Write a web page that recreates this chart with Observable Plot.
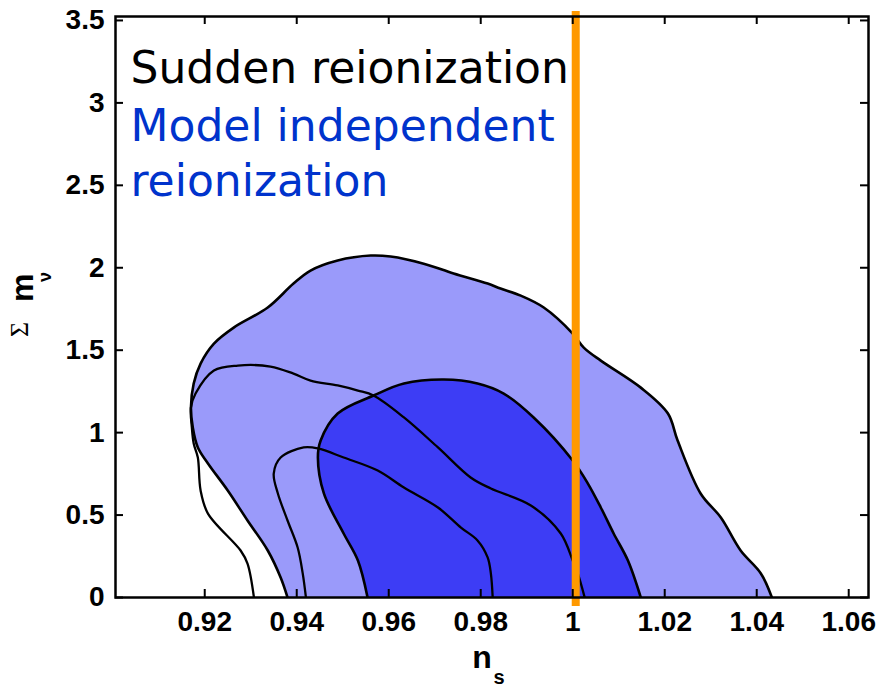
<!DOCTYPE html>
<html><head><meta charset="utf-8">
<script src="https://cdn.jsdelivr.net/npm/d3@7"></script>
<script src="https://cdn.jsdelivr.net/npm/@observablehq/plot@0.6"></script>
<style>body{margin:0;background:#fff}</style>
</head><body><div id="chart"></div>
<script>
// axis extents and ticks
const xDomain = [0.9006, 1.0643];
const yDomain = [0, 3.524];
const xTicks = [0.92, 0.94, 0.96, 0.98, 1.00, 1.02, 1.04, 1.06];
const yTicks = [0, 0.5, 1, 1.5, 2, 2.5, 3, 3.5];
const nsLine = [1.0];

// Model independent reionization, 95% (light filled)
const mi95 = [
  [0.9380,0],[0.9365,0.121],[0.9337,0.285],[0.9293,0.467],[0.9250,0.649],[0.9207,0.813],
  [0.9185,0.910],[0.9174,1.031],[0.9170,1.152],[0.9176,1.298],[0.9191,1.419],[0.9220,1.540],
  [0.9263,1.637],[0.9337,1.759],[0.9393,1.904],[0.9430,1.983],[0.9489,2.044],[0.9561,2.074],
  [0.9604,2.068],[0.9676,2.025],[0.9741,1.965],[0.9815,1.904],[0.9843,1.874],[0.9887,1.831],
  [0.9937,1.759],[1.0000,1.601],[1.0024,1.516],[1.0061,1.437],[1.0148,1.273],[1.0207,1.116],
  [1.0228,0.952],[1.0278,0.631],[1.0322,0.485],[1.0365,0.285],[1.0409,0.146],[1.0433,0]
];
// Model independent reionization, 68% (dark filled)
const mi68 = [
  [0.9554,0],[0.9533,0.224],[0.9502,0.388],[0.9459,0.631],[0.9446,0.849],[0.9452,0.952],
  [0.9489,1.116],[0.9567,1.225],[0.9633,1.298],[0.9720,1.322],[0.9793,1.298],[0.9850,1.237],
  [0.9915,1.092],[1.0000,0.831],[1.0033,0.691],[1.0061,0.546],[1.0089,0.388],[1.0120,0.224],[1.0148,0]
];
// Sudden reionization, 95% (line)
const sud95 = [
  [0.9307,0],[0.9293,0.206],[0.9278,0.285],[0.9207,0.509],[0.9191,0.649],[0.9185,0.849],
  [0.9176,0.934],[0.9172,1.031],[0.9170,1.152],[0.9180,1.237],[0.9220,1.377],[0.9272,1.407],
  [0.9343,1.401],[0.9393,1.358],[0.9430,1.316],[0.9489,1.286],[0.9533,1.255],[0.9567,1.225],
  [0.9633,1.092],[0.9707,0.910],[0.9778,0.728],[0.9822,0.661],[0.9909,0.558],[0.9974,0.388],
  [1.0000,0.224],[1.0011,0.146],[1.0026,0]
];
// Sudden reionization, 68% (line)
const sud68 = [
  [0.9420,0],[0.9413,0.146],[0.9402,0.303],[0.9380,0.467],[0.9359,0.631],[0.9350,0.752],
  [0.9365,0.849],[0.9415,0.910],[0.9446,0.904],[0.9502,0.849],[0.9576,0.770],[0.9633,0.667],
  [0.9707,0.546],[0.9757,0.424],[0.9793,0.346],[0.9815,0.243],[0.9822,0.146],[0.9826,0]
];

const labelSudden = ["Sudden reionization"];
const labelModel = ["Model independent\nreionization"];

const fmt = d3.format("~g");
const tickFont = {fontSize: 28, fontWeight: "bold", fontFamily: "Liberation Sans, Arial, sans-serif", fill: "black"};

const chart = Plot.plot({
  width: 882,
  height: 690,
  marginLeft: 115,
  marginRight: 14,
  marginTop: 16,
  marginBottom: 93,
  style: {background: "white", color: "black"},
  x: {domain: xDomain, label: null},
  y: {domain: yDomain, label: null},
  marks: [
    Plot.line(mi95, {x: d => d[0], y: d => d[1], fill: "#9a9afa", stroke: "black", strokeWidth: 2.6, curve: "catmull-rom", clip: true}),
    Plot.line(mi68, {x: d => d[0], y: d => d[1], fill: "#3d3df5", stroke: "black", strokeWidth: 2.6, curve: "catmull-rom", clip: true}),
    Plot.line(sud95, {x: d => d[0], y: d => d[1], stroke: "black", strokeWidth: 2.3, curve: "catmull-rom", clip: true}),
    Plot.line(sud68, {x: d => d[0], y: d => d[1], stroke: "black", strokeWidth: 2.3, curve: "catmull-rom", clip: true}),
    Plot.ruleX(nsLine, {x: d => d, stroke: "#ff9900", strokeWidth: 8, insetTop: -5, insetBottom: -9, dx: 3}),
    Plot.frame({stroke: "black", strokeWidth: 2.5}),
    // inward ticks on all four sides
    Plot.ruleX(xTicks, {x: d => d, y1: yDomain[0], y2: yDomain[0], insetTop: -8, stroke: "black", strokeWidth: 2}),
    Plot.ruleX(xTicks, {x: d => d, y1: yDomain[1], y2: yDomain[1], insetBottom: -8, stroke: "black", strokeWidth: 2}),
    Plot.ruleY(yTicks, {y: d => d, x1: xDomain[0], x2: xDomain[0], insetRight: -8, stroke: "black", strokeWidth: 2}),
    Plot.ruleY(yTicks, {y: d => d, x1: xDomain[1], x2: xDomain[1], insetLeft: -8, stroke: "black", strokeWidth: 2}),
    Plot.axisX({ticks: xTicks, tickFormat: fmt, tickSize: 0, tickPadding: 14, label: null, ...tickFont}),
    Plot.axisY({ticks: yTicks, tickFormat: fmt, tickSize: 0, tickPadding: 11, label: null, ...tickFont}),
    // axis titles
    Plot.text(["n"], {frameAnchor: "bottom", dx: -10, dy: 70, lineAnchor: "bottom", fontSize: 32, fontWeight: "bold", fontFamily: "Liberation Sans, Arial, sans-serif", fill: "black"}),
    Plot.text(["s"], {frameAnchor: "bottom", dx: 7, dy: 86, lineAnchor: "bottom", fontSize: 20, fontWeight: "bold", fontFamily: "Liberation Sans, Arial, sans-serif", fill: "black"}),
    Plot.text(["Σ"], {frameAnchor: "left", dx: -88, dy: 30, rotate: -90, lineAnchor: "bottom", fontSize: 26, fontFamily: "Liberation Serif, serif", fill: "black"}),
    Plot.text(["m"], {frameAnchor: "left", dx: -83, dy: -5, rotate: -90, lineAnchor: "bottom", fontSize: 32, fontWeight: "bold", fontFamily: "Liberation Sans, Arial, sans-serif", fill: "black"}),
    Plot.text(["ν"], {frameAnchor: "left", dx: -65, dy: -25, rotate: -90, lineAnchor: "bottom", fontSize: 18, fontWeight: "bold", fontFamily: "Liberation Sans, Arial, sans-serif", fill: "black"}),
    // annotations
    Plot.text(labelSudden, {frameAnchor: "top-left", dx: 15, dy: 66, textAnchor: "start", lineAnchor: "bottom", fontSize: 44, fontFamily: "DejaVu Sans, sans-serif", fill: "black"}),
    Plot.text(labelModel, {frameAnchor: "top-left", dx: 15, dy: 179, textAnchor: "start", lineAnchor: "bottom", lineHeight: 1.25, fontSize: 44, fontFamily: "DejaVu Sans, sans-serif", fill: "#0033cc"})
  ]
});
document.getElementById("chart").appendChild(chart);
</script>
</body></html>
